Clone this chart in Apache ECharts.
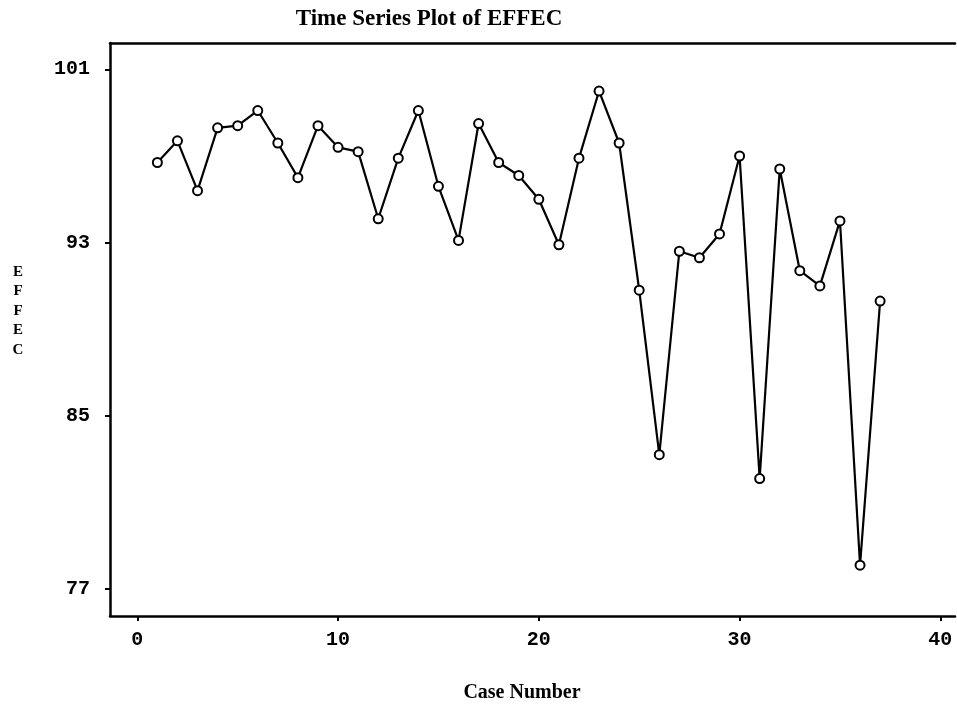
<!DOCTYPE html>
<html>
<head>
<meta charset="utf-8">
<script src="https://cdn.jsdelivr.net/npm/echarts@6/dist/echarts.min.js"></script>
<style>
html,body{margin:0;padding:0;background:#fff;}
#chart{width:957px;height:709px;}
</style>
</head>
<body>
<div id="chart"></div>
<script>
var caseNumbers = [1,2,3,4,5,6,7,8,9,10,11,12,13,14,15,16,17,18,19,20,21,22,23,24,25,26,27,28,29,30,31,32,33,34,35,36,37];
var effecValues = [96.7,97.7,95.4,98.3,98.4,99.1,97.6,96.0,98.4,97.4,97.2,94.1,96.9,99.1,95.6,93.1,98.5,96.7,96.1,95.0,92.9,96.9,100.0,97.6,90.8,83.2,92.6,92.3,93.4,97.0,82.1,96.4,91.7,91.0,94.0,78.1,90.3];
var xTickValues = [0,10,20,30,40];
var yTickValues = [77,85,93,101];
var titleText = 'Time Series Plot of EFFEC';
var xAxisName = 'Case Number';
var yAxisName = 'EFFEC';

var seriesData = caseNumbers.map(function(c, i){ return [c, effecValues[i]]; });
var labelFont = {fontFamily:'Liberation Mono', fontWeight:'bold', fontSize:20, color:'#000'};

var chart = echarts.init(document.getElementById('chart'), null, {renderer:'canvas'});
chart.setOption({
  animation:false,
  backgroundColor:'#fff',
  grid:{left:110, right:2, top:43, bottom:93},
  xAxis:[{
    type:'value', min:-1.36, max:40.73,
    axisLine:{show:true, onZero:false, lineStyle:{color:'#000', width:2.5}},
    axisTick:{show:true, customValues:xTickValues, length:5, inside:false, lineStyle:{color:'#000', width:2}},
    axisLabel:Object.assign({customValues:xTickValues, margin:14}, labelFont),
    splitLine:{show:false}
  },{
    type:'value', position:'top', min:-1.36, max:40.73,
    axisLine:{show:true, onZero:false, lineStyle:{color:'#000', width:2.5}},
    axisTick:{show:false}, axisLabel:{show:false}, splitLine:{show:false}
  }],
  yAxis:{
    type:'value', min:75.75, max:102.22,
    axisLine:{show:true, onZero:false, lineStyle:{color:'#000', width:2.5}},
    axisTick:{show:true, customValues:yTickValues, length:5, inside:false, lineStyle:{color:'#000', width:2}},
    axisLabel:Object.assign({customValues:yTickValues, margin:20}, labelFont),
    splitLine:{show:false}
  },
  graphic:[
    {type:'text', left:null, x:429, y:19, style:{text:titleText, fill:'#000', font:'bold 23px "Liberation Serif"', textAlign:'center', textVerticalAlign:'middle'}},
    {type:'text', x:522, y:693, style:{text:xAxisName, fill:'#000', font:'bold 20px "Liberation Serif"', textAlign:'center', textVerticalAlign:'middle'}},
    {type:'text', x:18, y:262, style:{text:yAxisName.split('').join('\n'), fill:'#000', font:'bold 15px "Liberation Serif"', lineHeight:19.5, textAlign:'center', textVerticalAlign:'top'}}
  ],
  series:[{
    type:'line', xAxisIndex:0, data:seriesData,
    symbol:'circle', symbolSize:9,
    itemStyle:{color:'#fff', borderColor:'#000', borderWidth:2},
    lineStyle:{color:'#000', width:2.2}
  }]
});
</script>
</body>
</html>
